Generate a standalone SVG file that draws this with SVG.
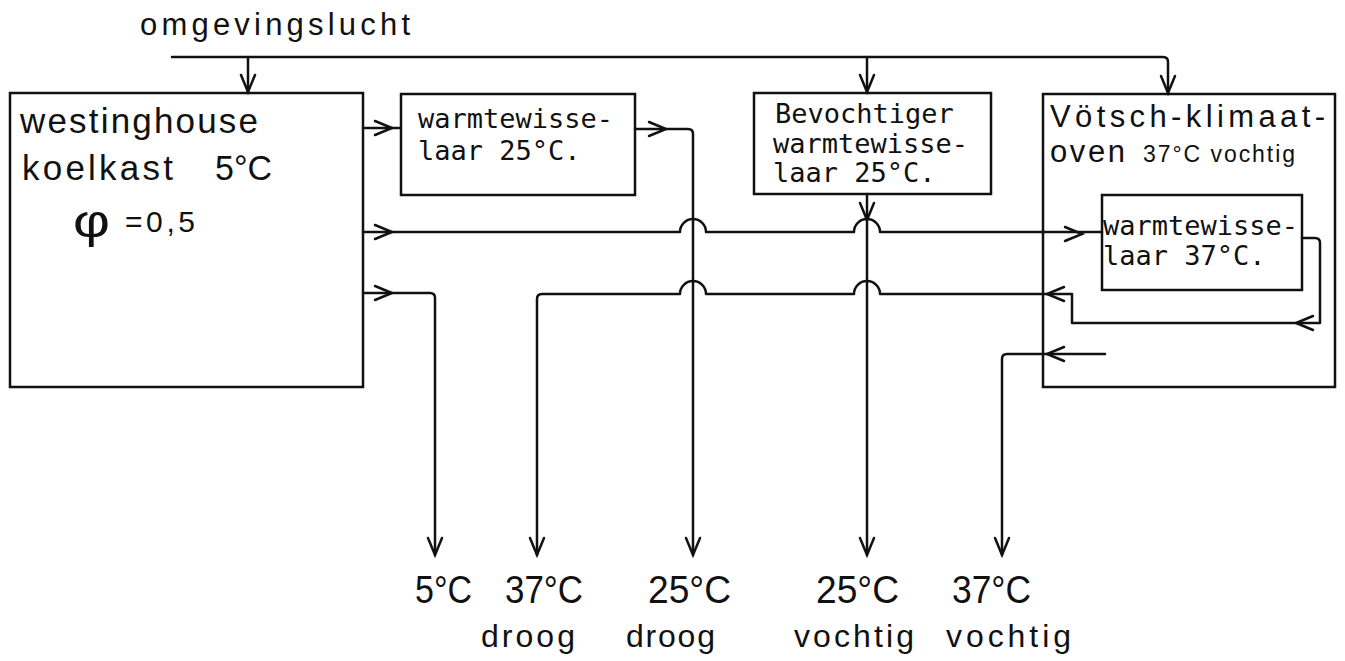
<svg xmlns="http://www.w3.org/2000/svg" xmlns:xlink="http://www.w3.org/1999/xlink" width="1345" height="661" viewBox="0 0 1345 661">
<style>
.ln{fill:none;stroke:#111;stroke-width:2.5;stroke-linejoin:round;stroke-linecap:round}
.box{fill:none;stroke:#111;stroke-width:2.5}
.ah{fill:none;stroke:#111;stroke-width:2.5;stroke-linejoin:miter;stroke-linecap:round}
.lt{font-family:"Liberation Sans",Arial,sans-serif;fill:#111}
.tw{font-family:"DejaVu Sans Mono","Liberation Mono",monospace;fill:#111;font-size:27px}
</style>
<defs>
<path id="ah" class="ah" d="M-17,-7 L0,0 L-17,7"/>
</defs>
<rect width="1345" height="661" fill="#fff"/>

<g id="n-omgevingslucht">
<text class="lt" x="140" y="35" font-size="31" textLength="270">omgevingslucht</text>
</g>

<g id="n-westinghouse">
<rect class="box" x="10" y="93" width="353" height="294"/>
<text class="lt" x="20" y="133" font-size="35" textLength="238">westinghouse</text>
<text class="lt" x="22" y="180" font-size="35" textLength="151">koelkast</text>
<text class="lt" x="215" y="180" font-size="35" textLength="57" lengthAdjust="spacingAndGlyphs">5°C</text>
<text class="lt" x="73" y="237" font-size="46" textLength="37" lengthAdjust="spacingAndGlyphs">φ</text>
<text class="lt" x="125" y="232" font-size="30" textLength="70">=0,5</text>
</g>

<g id="n-hx25">
<rect class="box" x="401" y="94" width="234" height="101"/>
<text class="tw" x="418" y="128">warmtewisse-</text>
<text class="tw" x="418" y="160">laar 25°C.</text>
</g>

<g id="n-bevochtiger">
<rect class="box" x="754" y="93" width="237" height="101"/>
<text class="tw" x="775" y="123" font-size="26">Bevochtiger</text>
<text class="tw" x="773" y="153" font-size="26">warmtewisse-</text>
<text class="tw" x="773" y="182" font-size="26">laar 25°C.</text>
</g>

<g id="n-votsch">
<rect class="box" x="1043" y="94" width="292" height="293"/>
<text class="lt" x="1050" y="127" font-size="31" textLength="275">Vötsch-klimaat-</text>
<text class="lt" x="1050" y="162" font-size="31" textLength="75">oven</text>
<text class="lt" x="1143" y="162" font-size="23" textLength="152">37°C vochtig</text>
</g>

<g id="n-hx37">
<rect class="box" x="1102" y="195" width="200" height="95"/>
<text class="tw" x="1103" y="235" font-size="26">warmtewisse-</text>
<text class="tw" x="1103" y="265" font-size="26">laar 37°C.</text>
</g>

<g id="n-out-5">
<text class="lt" x="415" y="603" font-size="38" textLength="57" lengthAdjust="spacingAndGlyphs">5°C</text>
</g>
<g id="n-out-37-droog">
<text class="lt" x="505" y="603" font-size="38" textLength="78" lengthAdjust="spacingAndGlyphs">37°C</text>
<text class="lt" x="481" y="647" font-size="32" textLength="94">droog</text>
</g>
<g id="n-out-25-droog">
<text class="lt" x="648" y="603" font-size="38" textLength="83" lengthAdjust="spacingAndGlyphs">25°C</text>
<text class="lt" x="626" y="647" font-size="32" textLength="89">droog</text>
</g>
<g id="n-out-25-vochtig">
<text class="lt" x="816" y="603" font-size="38" textLength="83" lengthAdjust="spacingAndGlyphs">25°C</text>
<text class="lt" x="794" y="647" font-size="32" textLength="120">vochtig</text>
</g>
<g id="n-out-37-vochtig">
<text class="lt" x="952" y="603" font-size="38" textLength="79" lengthAdjust="spacingAndGlyphs">37°C</text>
<text class="lt" x="946" y="647" font-size="32" textLength="125">vochtig</text>
</g>

<g id="connectors">
<path class="ln" d="M172,57 H1163 Q1168,57 1168,62 V93"/>
<path class="ln" d="M248,57 V92"/>
<path class="ln" d="M867,57 V92"/>
<path class="ln" d="M363,128 H401"/>
<path class="ln" d="M635,129 H688 Q693,129 693,134 V555"/>
<path class="ln" d="M363,232 H680 A13,13 0 0 1 706,232 H854 A13,13 0 0 1 880,232 H1102"/>
<path class="ln" d="M363,293 H430 Q435,293 435,298 V555"/>
<path class="ln" d="M867,194 V555"/>
<path class="ln" d="M1302,238 H1315 Q1320,238 1320,243 V323 H1072 V294 H880 A13,13 0 0 0 854,294 H706 A13,13 0 0 0 680,294 H542 Q537,294 537,299 V555"/>
<path class="ln" d="M1105,354 H1007 Q1002,354 1002,359 V555"/>

<use xlink:href="#ah" transform="translate(248,92) rotate(90)"/>
<use xlink:href="#ah" transform="translate(867,92) rotate(90)"/>
<use xlink:href="#ah" transform="translate(1168,93) rotate(90)"/>
<use xlink:href="#ah" transform="translate(392,128)"/>
<use xlink:href="#ah" transform="translate(666,129)"/>
<use xlink:href="#ah" transform="translate(392,232)"/>
<use xlink:href="#ah" transform="translate(392,293)"/>
<use xlink:href="#ah" transform="translate(867,220) rotate(90)"/>
<use xlink:href="#ah" transform="translate(1082,234)"/>
<use xlink:href="#ah" transform="translate(1047,294) rotate(180)"/>
<use xlink:href="#ah" transform="translate(1296,323) rotate(180)"/>
<use xlink:href="#ah" transform="translate(1047,354) rotate(180)"/>
<use xlink:href="#ah" transform="translate(435,555) rotate(90)"/>
<use xlink:href="#ah" transform="translate(537,555) rotate(90)"/>
<use xlink:href="#ah" transform="translate(693,555) rotate(90)"/>
<use xlink:href="#ah" transform="translate(867,555) rotate(90)"/>
<use xlink:href="#ah" transform="translate(1002,555) rotate(90)"/>
</g>
</svg>
